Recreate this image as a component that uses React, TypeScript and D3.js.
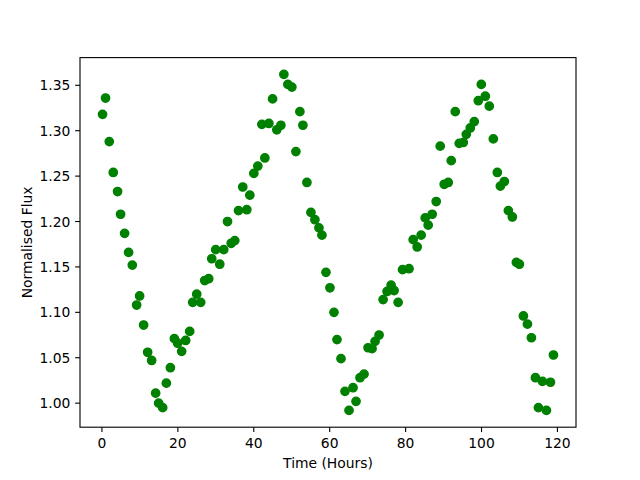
import React, { useEffect } from 'react';
import * as d3 from 'd3';

// time since start (hours) and normalised flux
const hours = [
  0.16, 0.95, 1.93, 2.98, 4.12, 4.91, 5.97, 7.02, 8.0, 9.14,
  9.93, 10.98, 12.04, 13.1, 14.15, 14.94, 16.0, 16.97, 18.03, 19.08,
  19.95, 21.0, 22.06, 23.12, 23.91, 24.97, 26.02, 27.08, 28.13, 28.93,
  29.98, 31.04, 32.09, 33.08, 34.05, 35.0, 35.98, 37.1, 38.17, 38.96,
  40.02, 41.07, 42.13, 42.92, 43.98, 44.96, 46.07, 47.14, 47.93, 48.98,
  50.04, 51.1, 52.15, 52.94, 54.0, 55.06, 56.11, 57.17, 57.96, 59.02,
  60.07, 61.13, 61.92, 62.98, 64.03, 65.09, 66.15, 66.94, 67.99, 69.05,
  70.11, 71.16, 71.95, 73.01, 74.07, 75.12, 76.18, 76.97, 78.03, 79.2,
  80.9, 81.99, 83.05, 84.1, 85.16, 85.95, 87.0, 88.06, 89.12, 90.17,
  91.23, 92.02, 93.08, 94.13, 95.19, 95.98, 97.04, 98.09, 99.15, 99.94,
  101.0, 102.05, 103.11, 104.16, 104.96, 106.01, 107.07, 108.12, 109.18, 109.97,
  111.03, 112.09, 113.14, 114.2, 114.99, 116.05, 117.1, 118.16, 118.95,
];
const flux = [
  1.318, 1.336, 1.288, 1.254, 1.233, 1.208, 1.187, 1.166, 1.152, 1.108,
  1.118, 1.086, 1.056, 1.047, 1.011, 1.0, 0.995, 1.022, 1.039, 1.071,
  1.066, 1.057, 1.069, 1.079, 1.111, 1.12, 1.111, 1.135, 1.137, 1.159,
  1.169, 1.153, 1.169, 1.2, 1.176, 1.179, 1.212, 1.238, 1.213, 1.229,
  1.253, 1.261, 1.307, 1.27, 1.308, 1.335, 1.301, 1.306, 1.362, 1.351,
  1.348, 1.277, 1.321, 1.306, 1.243, 1.21, 1.202, 1.193, 1.185, 1.144,
  1.127, 1.1, 1.07, 1.049, 1.013, 0.992, 1.017, 1.002, 1.028, 1.032,
  1.061, 1.06, 1.068, 1.075, 1.114, 1.123, 1.13, 1.124, 1.111, 1.147,
  1.148, 1.18, 1.172, 1.185, 1.204, 1.196, 1.208, 1.222, 1.283, 1.241,
  1.243, 1.267, 1.321, 1.286, 1.287, 1.296, 1.303, 1.31, 1.333, 1.351,
  1.338, 1.327, 1.291, 1.254, 1.239, 1.244, 1.212, 1.205, 1.155, 1.153,
  1.096, 1.087, 1.072, 1.028, 0.995, 1.024, 0.992, 1.023, 1.053,
];
const xTicks = [0, 20, 40, 60, 80, 100, 120];
const yTicks = [1.0, 1.05, 1.1, 1.15, 1.2, 1.25, 1.3, 1.35];
const xLabel = 'Time (Hours)';
const yLabel = 'Normalised Flux';

const W = 640, H = 480;
const left = 80, right = 576, top = 57.6, bottom = 427.2;
const font = '"DejaVu Sans", sans-serif';
const tickLen = 4.86;

// matplotlib style 5% margin around data
const padded = (vals: number[]) => {
  const [lo, hi] = d3.extent(vals) as [number, number];
  const m = (hi - lo) * 0.05;
  return [lo - m, hi + m];
};

const App = () => {
  useEffect(() => {
    document.body.style.margin = '0';
  }, []);

  const x = d3.scaleLinear().domain(padded(hours)).range([left, right]);
  const y = d3.scaleLinear().domain(padded(flux)).range([bottom, top]);

  return (
    <svg width={W} height={H} style={{ display: 'block', background: 'white' }} fontFamily={font}>
      <rect x={0} y={0} width={W} height={H} fill="white" />
      {hours.map((h, i) => (
        <circle key={i} cx={x(h)} cy={y(flux[i])} r={4.17}
          fill="green" stroke="green" strokeWidth={1.39} />
      ))}
      <rect x={left} y={top} width={right - left} height={bottom - top}
        fill="none" stroke="black" strokeWidth={1.11} />
      {xTicks.map(t => (
        <g key={t} transform={`translate(${x(t)},${bottom})`}>
          <line y2={tickLen} stroke="black" strokeWidth={1.11} />
          <text y={20.8} textAnchor="middle" fontSize={13.89} fill="black">{t}</text>
        </g>
      ))}
      {yTicks.map(t => (
        <g key={t} transform={`translate(${left},${y(t)})`}>
          <line x2={-tickLen} stroke="black" strokeWidth={1.11} />
          <text x={-9.7} dy="0.36em" textAnchor="end" fontSize={13.89} fill="black">{t.toFixed(2)}</text>
        </g>
      ))}
      <text x={(left + right) / 2} y={468} textAnchor="middle" fontSize={13.89} fill="black">{xLabel}</text>
      <text transform={`translate(31.7,${(top + bottom) / 2}) rotate(-90)`} textAnchor="middle"
        fontSize={13.89} fill="black">{yLabel}</text>
    </svg>
  );
};

export default App;
